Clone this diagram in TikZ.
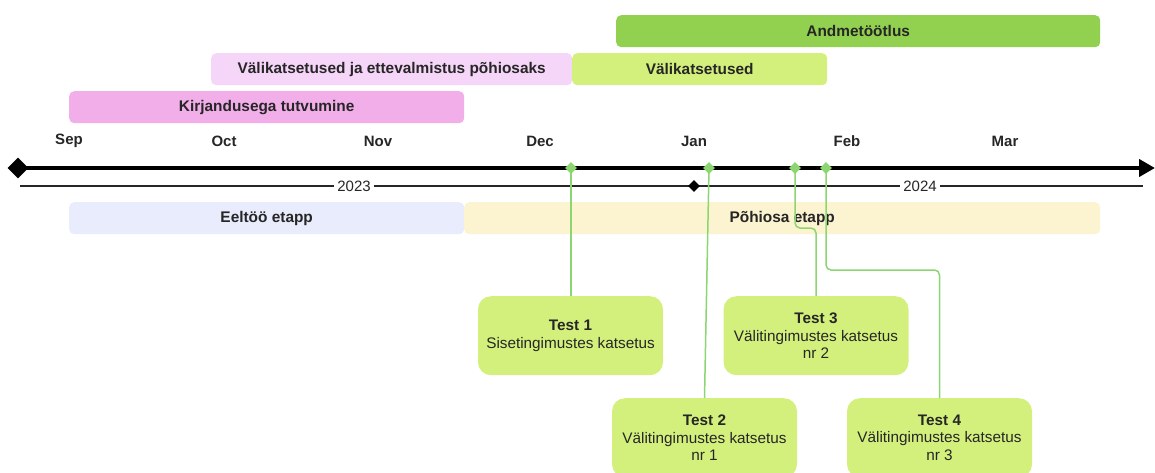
\documentclass[tikz,border=0pt]{standalone}
\usepackage{fontspec}
\setmainfont{Liberation Sans}
\usetikzlibrary{shapes.geometric,arrows.meta}
\definecolor{txt}{HTML}{262626}
\definecolor{gdark}{HTML}{92D050}
\definecolor{glight}{HTML}{D4F07C}
\definecolor{pinkl}{HTML}{F5D5F8}
\definecolor{pinkd}{HTML}{F2AEE9}
\definecolor{bluel}{HTML}{E8ECFC}
\definecolor{yell}{HTML}{FCF3D1}
\definecolor{conn}{HTML}{8CD672}
\tikzset{
  bar/.style={draw=none,rounded corners=5pt,minimum height=32pt,inner sep=0pt,anchor=north west,font=\fontsize{15.4}{17}\selectfont\bfseries,text=txt},
  month/.style={font=\fontsize{15}{17}\selectfont\bfseries,text=txt},
  testbox/.style={fill=glight,rounded corners=13pt,minimum width=185pt,minimum height=79pt,inner sep=0pt,anchor=north,align=center,font=\fontsize{15.3}{17.5}\selectfont,text=txt},
  gdia/.style={diamond,fill=conn,inner sep=0pt,minimum size=12pt},
  bdia/.style={diamond,fill=black,inner sep=0pt,minimum size=12pt},
  conline/.style={draw=conn,line width=1.5pt,rounded corners=5pt},
  year/.style={fill=white,inner sep=3pt,font=\fontsize{15}{17}\selectfont,text=txt}
}
\begin{document}
\begin{tikzpicture}[x=1pt,y=-1pt]
\useasboundingbox (0,0) rectangle (1155,472);
% bars
\node[bar,fill=gdark,minimum width=484pt] (andm) at (616,15) {Andmetöötlus};
\node[bar,fill=pinkl,minimum width=361pt] (valet) at (211,53) {Välikatsetused ja ettevalmistus põhiosaks};
\node[bar,fill=glight,minimum width=255pt] (vali) at (572,53) {Välikatsetused};
\node[bar,fill=pinkd,minimum width=395pt] (kirj) at (69,91) {Kirjandusega tutvumine};
% months
\node[month] (sep) at (69,141) {Sep};
\node[month] (oct) at (224,141) {Oct};
\node[month] (nov) at (378,141) {Nov};
\node[month] (dec) at (540,141) {Dec};
\node[month] (jan) at (694,141) {Jan};
\node[month] (feb) at (847,141) {Feb};
\node[month] (mar) at (1005,141) {Mar};
% main axis
\coordinate (axstart) at (18,168);
\coordinate (axend) at (1155,168);
\draw[line width=4pt,-{Triangle[length=16pt,width=17pt]}] (axstart) -- (axend);
\node[bdia,minimum size=21pt] (startdia) at (axstart) {};
% year line
\coordinate (ys) at (20,186);
\coordinate (ye) at (1143,186);
\draw[line width=1.5pt,draw=txt] (ys) -- (ye);
\node[year] (y23) at (354,186) {2023};
\node[year] (y24) at (920,186) {2024};
\node[bdia] (ydia) at (694,186) {};
% phases
\node[bar,fill=bluel,minimum width=395pt] (eel) at (69,202) {Eeltöö etapp};
\node[bar,fill=yell,minimum width=636pt] (poh) at (464,202) {Põhiosa etapp};
% tests
\node[testbox] (t1) at (570.5,296) {\textbf{Test 1}\\Sisetingimustes katsetus};
\node[testbox] (t2) at (704.5,398) {\textbf{Test 2}\\Välitingimustes katsetus\\nr 1};
\node[testbox] (t3) at (816,296) {\textbf{Test 3}\\Välitingimustes katsetus\\nr 2};
\node[testbox] (t4) at (939.5,398) {\textbf{Test 4}\\Välitingimustes katsetus\\nr 3};
% milestones
\coordinate (m1) at (571,168);
\coordinate (m2) at (709,168);
\coordinate (m3) at (795,168);
\coordinate (m4) at (826,168);
\draw[conline] (m1) -- (m1 |- t1.north);
\draw[conline] (m2) -- (t2.north);
\draw[conline] (m3) -- (795,228) -- (816,228) -- (t3.north);
\draw[conline] (m4) -- (826,270) -- (939.5,270) -- (t4.north);
\node[gdia] (d1) at (m1) {};
\node[gdia] (d2) at (m2) {};
\node[gdia] (d3) at (m3) {};
\node[gdia] (d4) at (m4) {};
\end{tikzpicture}
\end{document}
